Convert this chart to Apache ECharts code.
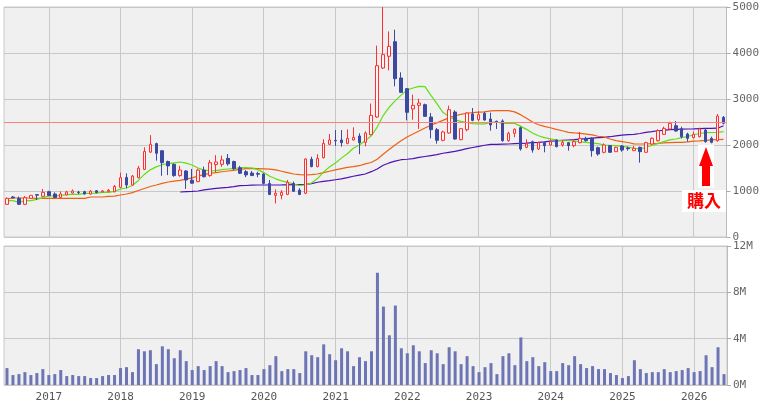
<!DOCTYPE html>
<html lang="ja">
<head>
<meta charset="UTF-8">
<title>月足チャート</title>
<script src="https://cdn.jsdelivr.net/npm/echarts@6/dist/echarts.min.js"></script>
<style>
  html, body { margin: 0; padding: 0; background: #fff; }
  #main { width: 762px; height: 405px; }
</style>
</head>
<body>
<div id="main"></div>
<script>
// months from 2016-06 to 2026-06 (one candle per month)
var months = [];
for (var y = 2016; y <= 2026; y++) {
    for (var m = 1; m <= 12; m++) {
        if ((y === 2016 && m < 6) || (y === 2026 && m > 6)) continue;
        months.push(y + '-' + (m < 10 ? '0' + m : m));
    }
}

// [open, close, low, high]
var candles = [
    [710, 840, 700, 862], [870, 850, 840, 890], [840, 710, 700, 880], [710, 855, 700, 890],
    [840, 905, 840, 905], [920, 910, 805, 935], [885, 970, 880, 1045], [985, 900, 895, 1005],
    [935, 860, 855, 970], [860, 935, 850, 990], [915, 980, 910, 1005], [955, 1000, 940, 1035],
    [975, 965, 935, 1005], [985, 935, 920, 1005], [935, 995, 920, 1020], [1005, 965, 950, 1020],
    [980, 1000, 975, 1020], [985, 1015, 980, 1045], [985, 1100, 970, 1130], [1080, 1290, 1060, 1400],
    [1295, 1130, 1060, 1385], [1130, 1325, 1120, 1350], [1290, 1495, 1275, 1545], [1470, 1860, 1455, 1950],
    [1845, 2015, 1825, 2215], [2030, 1820, 1660, 2050], [1875, 1615, 1330, 1890], [1640, 1545, 1345, 1660],
    [1580, 1335, 1310, 1600], [1335, 1455, 1310, 1545], [1435, 1240, 1045, 1455], [1235, 1170, 1160, 1480],
    [1205, 1455, 1190, 1485], [1455, 1310, 1295, 1530], [1335, 1615, 1310, 1675], [1575, 1630, 1400, 1780],
    [1580, 1675, 1525, 1770], [1710, 1590, 1550, 1805], [1640, 1485, 1460, 1660], [1505, 1385, 1370, 1545],
    [1420, 1350, 1300, 1455], [1390, 1335, 1330, 1435], [1380, 1365, 1300, 1420], [1370, 1165, 1150, 1385],
    [1165, 925, 910, 1240], [905, 950, 730, 1035], [905, 970, 820, 1020], [925, 1190, 910, 1240],
    [1165, 995, 980, 1205], [1020, 925, 910, 1060], [950, 1695, 935, 1710], [1690, 1530, 1515, 1745],
    [1530, 1710, 1515, 1800], [1725, 2035, 1705, 2125], [2015, 2110, 2000, 2240], [2100, 2090, 1980, 2325],
    [2110, 2050, 1965, 2325], [2035, 2145, 2015, 2340], [2110, 2165, 2095, 2385], [2195, 2050, 1800, 2255],
    [2058, 2261, 1971, 2297], [2225, 2645, 2210, 2900], [2609, 3725, 2587, 4160], [3674, 3964, 3652, 5000],
    [3928, 4145, 3623, 4470], [4246, 3442, 3275, 4507], [3457, 3145, 3130, 3580], [3225, 2710, 2536, 3240],
    [2783, 2862, 2550, 3094], [2862, 2913, 2348, 3007], [2877, 2623, 2609, 2899], [2609, 2333, 2145, 2696],
    [2333, 2102, 2029, 2370], [2102, 2283, 2080, 2312], [2261, 2768, 2246, 2855], [2717, 2130, 2116, 2754],
    [2116, 2355, 2102, 2370], [2333, 2696, 2297, 2710], [2674, 2536, 2515, 2804], [2551, 2659, 2515, 2732],
    [2688, 2543, 2529, 2725], [2565, 2435, 2312, 2703], [2515, 2500, 2348, 2530], [2522, 2094, 2072, 2558],
    [2094, 2254, 2072, 2290], [2254, 2341, 2167, 2362], [2377, 1913, 1877, 2399], [1949, 2022, 1928, 2123],
    [2072, 1891, 1833, 2094], [1913, 2051, 1891, 2072], [2051, 1986, 1841, 2072], [2000, 2072, 1986, 2123],
    [2109, 1964, 1949, 2123], [2000, 2058, 1964, 2109], [2051, 1986, 1877, 2058], [1986, 2072, 1949, 2109],
    [2051, 2145, 2036, 2283], [2145, 2094, 2072, 2181], [2145, 1877, 1746, 2167], [1942, 1804, 1768, 1964],
    [1841, 2000, 1819, 2036], [1986, 1841, 1841, 2000], [1855, 1949, 1855, 1964], [1978, 1891, 1855, 2000],
    [1935, 1920, 1877, 1964], [1877, 1928, 1877, 1978], [1949, 1855, 1616, 1964], [1841, 2051, 1833, 2072],
    [2022, 2145, 2000, 2167], [2094, 2312, 2072, 2341], [2232, 2362, 2217, 2399], [2348, 2471, 2341, 2507],
    [2420, 2304, 2290, 2522], [2355, 2181, 2145, 2399], [2239, 2145, 2072, 2268], [2159, 2232, 2145, 2290],
    [2181, 2348, 2167, 2377], [2326, 2072, 2051, 2362], [2145, 2058, 2036, 2181], [2094, 2630, 2072, 2674],
    [2601, 2471, 2449, 2630]
];

// moving averages
var maShort = [
    790, 790, 754, 790, 790, 819, 855, 891, 891, 906, 920, 928, 928, 949, 949, 955, 971, 971, 990, 1043,
    1065, 1120, 1230, 1360, 1460, 1525, 1570, 1595, 1610, 1630, 1605, 1565, 1500, 1455, 1437, 1442, 1465, 1478, 1485, 1505,
    1510, 1500, 1465, 1400, 1320, 1265, 1220, 1188, 1152, 1120, 1130, 1175, 1270, 1410, 1520, 1610, 1715, 1810, 1930, 2000,
    2090, 2200, 2390, 2640, 2820, 2960, 3085, 3195, 3240, 3275, 3270, 3080, 2900, 2710, 2620, 2550, 2515, 2490, 2464, 2460,
    2460, 2490, 2500, 2471, 2471, 2471, 2410, 2340, 2260, 2200, 2160, 2135, 2105, 2096, 2092, 2087, 2070, 2055, 2040, 2030,
    2000, 1995, 1986, 1970, 1952, 1930, 1913, 1950, 1990, 2030, 2075, 2110, 2130, 2160, 2185, 2222, 2250, 2268, 2272, 2275,
    2290
];
var maMid = [
    830, 848, 848, 848, 848, 840, 840, 840, 840, 840, 840, 840, 840, 840, 870, 870, 870, 884, 890, 913,
    935, 965, 1010, 1055, 1098, 1130, 1165, 1195, 1215, 1232, 1260, 1285, 1322, 1355, 1384, 1400, 1418, 1435, 1450, 1470,
    1488, 1492, 1488, 1482, 1475, 1460, 1430, 1400, 1370, 1358, 1350, 1355, 1370, 1400, 1430, 1460, 1487, 1514, 1530, 1550,
    1590, 1620, 1690, 1800, 1900, 2000, 2090, 2175, 2240, 2305, 2370, 2430, 2480, 2535, 2590, 2635, 2665, 2690, 2705, 2715,
    2720, 2740, 2746, 2746, 2746, 2720, 2660, 2580, 2500, 2440, 2405, 2375, 2340, 2310, 2275, 2262, 2252, 2238, 2220, 2190,
    2175, 2130, 2094, 2075, 2055, 2025, 2022, 2022, 2028, 2035, 2045, 2051, 2055, 2058, 2068, 2085, 2090, 2100, 2110, 2118,
    2123
];
var maLong = [
    null, null, null, null, null, null, null, null, null, null, null, null, null, null, null, null, null, null, null, null,
    null, null, null, null, null, null, null, null, null, 978, 985, 992, 1000, 1025, 1040, 1055, 1068, 1080, 1094, 1116,
    1120, 1128, 1130, 1130, 1130, 1130, 1132, 1135, 1138, 1140, 1145, 1160, 1190, 1210, 1225, 1245, 1265, 1290, 1320, 1345,
    1370, 1420, 1480, 1560, 1610, 1650, 1680, 1690, 1705, 1730, 1750, 1770, 1790, 1820, 1840, 1860, 1890, 1920, 1945, 1970,
    1995, 2012, 2015, 2020, 2022, 2030, 2036, 2040, 2050, 2058, 2070, 2085, 2090, 2100, 2109, 2115, 2128, 2138, 2150, 2159,
    2167, 2180, 2200, 2215, 2225, 2232, 2250, 2275, 2290, 2310, 2320, 2335, 2341, 2345, 2348, 2350, 2355, 2360, 2362, 2365,
    2420
];

// monthly volume, millions of shares
var volume = [
    1.46, 0.86, 0.94, 1.11, 0.86, 1.03, 1.37, 0.86, 0.94, 1.29, 0.77, 0.86, 0.77, 0.77, 0.60, 0.60, 0.77, 0.86, 0.86, 1.46,
    1.54, 1.11, 3.09, 2.91, 3.00, 1.80, 3.34, 3.09, 2.31, 3.00, 2.06, 1.29, 1.63, 1.29, 1.63, 2.06, 1.63, 1.11, 1.20, 1.29,
    1.46, 0.86, 0.86, 1.37, 1.71, 2.49, 1.20, 1.37, 1.37, 1.03, 2.91, 2.57, 2.40, 3.51, 2.66, 2.14, 3.17, 2.91, 1.63, 2.40,
    2.06, 2.91, 9.69, 6.77, 4.29, 6.86, 3.17, 2.74, 3.43, 2.91, 1.89, 3.00, 2.74, 1.80, 3.26, 2.91, 1.80, 2.49, 1.63, 1.11,
    1.54, 1.89, 0.94, 2.49, 2.74, 1.71, 4.11, 2.06, 2.40, 1.63, 1.97, 1.20, 1.20, 1.89, 1.71, 2.49, 1.80, 1.46, 1.63, 1.37,
    1.37, 1.03, 0.86, 0.60, 0.77, 2.14, 1.37, 1.03, 1.11, 1.11, 1.37, 1.11, 1.20, 1.29, 1.46, 1.11, 1.20, 2.57, 1.54, 3.26,
    0.94
];

var buyLine = 2500;
var buyIndex = 117;

var chart = echarts.init(document.getElementById('main'), null, { renderer: 'canvas' });

function isJan(index) { return months[index].slice(5) === '01'; }

var font = 'DejaVu Sans Mono';

var xCommon = {
    type: 'category',
    data: months,
    boundaryGap: true,
    axisLine: { show: false },
    axisTick: { show: false, alignWithLabel: true },
    splitLine: { show: true, interval: isJan, alignWithLabel: true, lineStyle: { color: '#c8c8c8', width: 1 } }
};

var yLabel = { color: '#666', fontFamily: font, fontSize: 11, margin: 6 };

var option = {
    animation: false,
    backgroundColor: '#fff',
    grid: [
        { left: 4, right: 35, top: 7, height: 230, show: true, backgroundColor: '#f0f0f0', borderColor: '#c8c8c8', borderWidth: 1 },
        { left: 4, right: 35, top: 246, height: 139, show: true, backgroundColor: '#f0f0f0', borderColor: '#c8c8c8', borderWidth: 1 }
    ],
    xAxis: [
        Object.assign({ gridIndex: 0, axisLabel: { show: false } }, xCommon),
        Object.assign({
            gridIndex: 1,
            axisLabel: {
                show: true, interval: isJan, color: '#555', fontFamily: font, fontSize: 11, margin: 7,
                formatter: function (v) { return v.slice(0, 4); }
            }
        }, xCommon)
    ],
    yAxis: [
        {
            gridIndex: 0, type: 'value', position: 'right', min: 0, max: 5000, interval: 1000,
            axisLine: { show: true, lineStyle: { color: '#bbb' } },
            axisTick: { show: true, length: 4, lineStyle: { color: '#aaa' } },
            axisLabel: Object.assign({ formatter: function (v) { return String(v); } }, yLabel),
            splitLine: { lineStyle: { color: '#c8c8c8' } }
        },
        {
            gridIndex: 1, type: 'value', position: 'right', min: 0, max: 12, interval: 4,
            axisLine: { show: true, lineStyle: { color: '#bbb' } },
            axisTick: { show: true, length: 4, lineStyle: { color: '#aaa' } },
            axisLabel: Object.assign({ formatter: function (v) { return v + 'M'; } }, yLabel),
            splitLine: { lineStyle: { color: '#c8c8c8' } }
        }
    ],
    series: [
        {
            name: 'MA long', type: 'line', xAxisIndex: 0, yAxisIndex: 0, data: maLong,
            showSymbol: false, lineStyle: { color: '#5010b8', width: 1.2 }, z: 2
        },
        {
            name: 'MA mid', type: 'line', xAxisIndex: 0, yAxisIndex: 0, data: maMid,
            showSymbol: false, lineStyle: { color: '#f06010', width: 1.2 }, z: 2
        },
        {
            name: 'MA short', type: 'line', xAxisIndex: 0, yAxisIndex: 0, data: maShort,
            showSymbol: false, lineStyle: { color: '#60e010', width: 1.2 }, z: 2
        },
        {
            name: '株価', type: 'candlestick', xAxisIndex: 0, yAxisIndex: 0, data: candles,
            barWidth: 3, z: 3,
            itemStyle: {
                color: '#f4f4f4', color0: '#3b4aa0',
                borderColor: '#ff3030', borderColor0: '#3b4aa0', borderWidth: 1
            },
            markLine: {
                silent: true, symbol: 'none', label: { show: false },
                lineStyle: { color: '#ff8080', width: 1, type: 'solid' },
                data: [{ yAxis: buyLine }]
            }
        },
        {
            name: '出来高', type: 'bar', xAxisIndex: 1, yAxisIndex: 1, data: volume,
            barWidth: 3, itemStyle: { color: '#6d75b4' }
        }
    ]
};

chart.setOption(option);

// purchase marker: arrow and label under the candle
var tip = chart.convertToPixel({ xAxisIndex: 0, yAxisIndex: 0 }, [buyIndex, 1960]);
var ax = Math.round(tip[0]), ay = Math.round(tip[1]);
chart.setOption({
    graphic: [
        { type: 'rect', shape: { x: ax - 8, y: ay - 2, width: 16, height: 43 }, style: { fill: '#fff' }, z: 10 },
        {
            type: 'polygon', z: 11,
            shape: { points: [[ax, ay], [ax + 7, ay + 19], [ax + 4, ay + 19], [ax + 4, ay + 39], [ax - 4, ay + 39], [ax - 4, ay + 19], [ax - 7, ay + 19]] },
            style: { fill: '#ff0000' }
        },
        { type: 'rect', shape: { x: ax - 24, y: ay + 43, width: 44, height: 22 }, style: { fill: '#fff' }, z: 10 },
        {
            type: 'text', z: 11, x: ax - 2, y: ay + 54,
            style: { text: '購入', fill: '#ff0000', font: 'bold 17px "Noto Sans CJK JP"', align: 'center', verticalAlign: 'middle' }
        }
    ]
});
</script>
</body>
</html>
